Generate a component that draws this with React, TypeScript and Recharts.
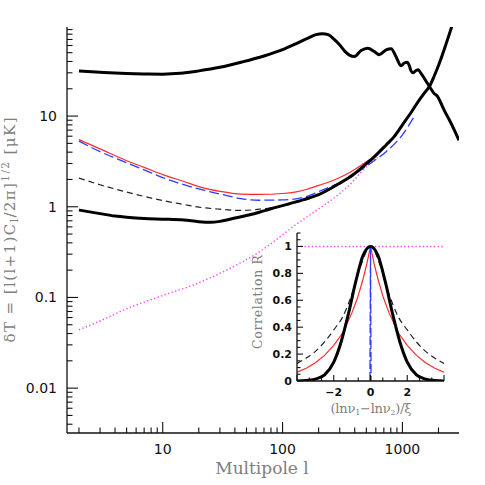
import React from 'react';
import { LineChart, Line, XAxis, YAxis } from 'recharts';

// ---- main panel: dT vs multipole l (log-log) ----
const cmbL = [2, 3, 4, 5, 7, 10, 14, 20, 30, 46, 70, 100, 130, 165, 190, 215, 240, 270, 299, 330, 361, 398, 452, 514, 583, 640, 731, 806, 883, 974, 1038, 1100, 1140, 1180, 1230, 1300, 1360, 1420, 1500, 1600, 1687, 1835, 1962, 2080, 2225, 2460, 2700, 2966];
const cmbT = [31.5, 30.5, 29.8, 29.4, 29.1, 29.0, 29.6, 31.5, 34.5, 39.5, 46, 54, 63, 73, 79, 81, 79, 70, 61, 52, 47, 45.4, 52.8, 56, 51.5, 47.5, 53.8, 55.3, 45.4, 36, 38.5, 39.2, 36, 31.5, 30, 31.8, 32.4, 30, 27, 23.5, 21, 17.8, 16.5, 14.2, 11.7, 9.1, 7.1, 5.4];

const noiseL = [2, 3, 4, 5, 7, 10, 15, 20, 25, 30, 40, 50, 64, 80, 100, 150, 200, 300, 385, 450, 566, 731, 850, 1000, 1200, 1380, 1550, 1690, 1850, 2030, 2300, 2600, 2750];
const noiseT = [0.92, 0.84, 0.79, 0.765, 0.74, 0.73, 0.715, 0.685, 0.675, 0.69, 0.75, 0.8, 0.87, 0.95, 1.03, 1.2, 1.36, 1.82, 2.24, 2.65, 3.43, 4.8, 5.9, 8.0, 11.3, 15, 18.5, 21.5, 28, 38, 61, 100, 125];

const redL = [2, 3, 5, 7, 10, 15, 20, 30, 45, 64, 100, 130, 160, 200, 250, 300, 385, 450, 530, 600];
const redT = [5.5, 4.35, 3.22, 2.72, 2.26, 1.9, 1.67, 1.48, 1.38, 1.37, 1.4, 1.46, 1.56, 1.72, 1.9, 2.1, 2.5, 2.85, 3.3, 3.65];

const blueL = [2, 3, 5, 7, 10, 15, 20, 25, 35, 45, 64, 100, 150, 203, 300, 385, 450, 566, 731, 1000, 1250];
const blueT = [5.3, 4.05, 3.06, 2.55, 2.1, 1.75, 1.57, 1.46, 1.32, 1.23, 1.18, 1.19, 1.27, 1.48, 1.85, 2.2, 2.55, 3.14, 4.05, 6.2, 9.8];

const dashL = [2, 3, 4, 5, 7, 10, 15, 20, 30, 46, 64, 90, 120, 150, 180];
const dashT = [2.07, 1.75, 1.57, 1.45, 1.3, 1.17, 1.06, 0.99, 0.94, 0.91, 0.94, 1.0, 1.08, 1.18, 1.27];

const pinkL = [2, 3, 5, 10, 18, 34, 64, 100, 122, 203, 300, 385, 468, 566, 620];
const pinkT = [0.044, 0.055, 0.075, 0.105, 0.137, 0.2, 0.318, 0.49, 0.6, 0.96, 1.4, 1.89, 2.54, 3.2, 3.5];

const xTicks = [2, 3, 4, 5, 6, 7, 8, 9, 10, 20, 30, 40, 50, 60, 70, 80, 90, 100, 200, 300, 400, 500, 600, 700, 800, 900, 1000, 2000];
const yTicks = [0.004, 0.005, 0.006, 0.007, 0.008, 0.009, 0.01, 0.02, 0.03, 0.04, 0.05, 0.06, 0.07, 0.08, 0.09, 0.1, 0.2, 0.3, 0.4, 0.5, 0.6, 0.7, 0.8, 0.9, 1, 2, 3, 4, 5, 6, 7, 8, 9, 10, 20, 30, 40, 50, 60, 70, 80, 90];

// ---- inset: correlation R vs (ln nu1 - ln nu2)/xi ----
const gaussX = [-4, -3.5, -3, -2.5, -2, -1.6, -1.2, -0.8, -0.4, 0, 0.4, 0.8, 1.2, 1.6, 2, 2.5, 3, 3.5, 4];
const gaussR = [0.0, 0.003, 0.014, 0.045, 0.14, 0.29, 0.5, 0.74, 0.935, 1, 0.935, 0.74, 0.5, 0.29, 0.14, 0.045, 0.014, 0.003, 0.0];
const expX = [-4, -3.5, -3, -2.5, -2, -1.5, -1, -0.7, -0.4, -0.2, 0, 0.2, 0.4, 0.7, 1, 1.5, 2, 2.5, 3, 3.5, 4];
const expR = [0.065, 0.095, 0.135, 0.19, 0.265, 0.36, 0.51, 0.62, 0.76, 0.87, 1, 0.87, 0.76, 0.62, 0.51, 0.36, 0.265, 0.19, 0.135, 0.095, 0.065];
const wideX = [-4, -3.5, -3, -2.5, -2, -1.5, -1, -0.5, 0, 0.5, 1, 1.5, 2, 2.5, 3, 3.5, 4];
const wideR = [0.13, 0.17, 0.22, 0.29, 0.38, 0.48, 0.65, 0.87, 1, 0.87, 0.65, 0.48, 0.38, 0.29, 0.22, 0.17, 0.13];
const spikeX = [-0.03, 0, 0.03];
const spikeR = [0, 1, 0];
const flatX = [-4, 4];
const flatR = [1, 1];

const insetXTicks = [-4, -3.333, -2.667, -2, -1.333, -0.667, 0, 0.667, 1.333, 2, 2.667, 3.333, 4];
const insetYTicks = [0, 0.05, 0.1, 0.15, 0.2, 0.25, 0.3, 0.35, 0.4, 0.45, 0.5, 0.55, 0.6, 0.65, 0.7, 0.75, 0.8, 0.85, 0.9, 0.95, 1, 1.05, 1.1];

const pts = (xs: number[], ys: number[]) => xs.map((x, i) => ({ x, v: ys[i] }));

const ink = '#111';
const gray = '#808080';
const serif = '"DejaVu Serif", serif';
const sans = '"DejaVu Sans", sans-serif';

type Side = 'bottom' | 'top' | 'left' | 'right';

function makeTick(
  side: Side,
  isMajor: (v: number) => boolean,
  label: (v: number) => string | null,
  majorLen: number,
  minorLen: number,
  gap: number,
  fontSize: number,
  fontWeight: number | string = 'normal'
) {
  return (p: any) => {
    const { x, y } = p;
    const v = p.payload.value;
    const len = isMajor(v) ? majorLen : minorLen;
    let x2 = x;
    let y2 = y;
    if (side === 'bottom') y2 = y - len;
    else if (side === 'top') y2 = y + len;
    else if (side === 'left') x2 = x + len;
    else x2 = x - len;
    const txt = label(v);
    return (
      <g>
        <line x1={x} y1={y} x2={x2} y2={y2} stroke={ink} strokeWidth={1.1} />
        {txt !== null && side === 'bottom' && (
          <text x={x} y={y + gap} textAnchor="middle" fontFamily={sans} fontSize={fontSize} fontWeight={fontWeight} fill={ink}>
            {txt}
          </text>
        )}
        {txt !== null && side === 'left' && (
          <text x={x - gap} y={y} dy="0.36em" textAnchor="end" fontFamily={sans} fontSize={fontSize} fontWeight={fontWeight} fill={ink}>
            {txt}
          </text>
        )}
      </g>
    );
  };
}

const isDecade = (v: number) => Math.abs(Math.log10(v) - Math.round(Math.log10(v))) < 1e-6;
const noLabel = () => null;
const decadeLabel = (v: number) => (isDecade(v) ? String(v) : null);

const insetXMajor = (v: number) => Math.abs(v - Math.round(v)) < 0.01 && Math.round(v) % 2 === 0;
const insetXLabel = (v: number) => {
  if (!insetXMajor(v) || Math.abs(v) > 3) return null;
  const r = Math.round(v);
  return r < 0 ? '\u2212' + Math.abs(r) : String(r);
};
const insetYMajor = (v: number) => Math.abs(v * 5 - Math.round(v * 5)) < 1e-6 && v <= 1.0001;
const insetYLabel = (v: number) => (insetYMajor(v) ? String(Math.round(v * 10) / 10) : null);

const axisLine = { stroke: ink, strokeWidth: 1.3 };

function YTitle() {
  return (
    <text
      transform="translate(15,230) rotate(-90)"
      textAnchor="middle"
      fill={gray}
      fontFamily={serif}
      fontSize={15}
      textLength={225}
      lengthAdjust="spacing"
    >
      δT = [l(l+1)C<tspan dy={3} fontSize={10.5}>l</tspan>
      <tspan dy={-3}>/2π]</tspan>
      <tspan dy={-6} fontSize={10.5}>1/2</tspan>
      <tspan dy={6}> [μK]</tspan>
    </text>
  );
}

function XTitle() {
  return (
    <text x={262} y={474} textAnchor="middle" fill={gray} fontFamily={serif} fontSize={17}>
      Multipole l
    </text>
  );
}

function InsetYTitle() {
  return (
    <text transform="translate(22,79) rotate(-90)" textAnchor="middle" fill={gray} fontFamily={serif} fontSize={12.5} textLength={94} lengthAdjust="spacing">
      Correlation R
    </text>
  );
}

function InsetXTitle() {
  return (
    <text x={131} y={190} textAnchor="middle" fill={gray} fontFamily={serif} fontSize={13} textLength={81} lengthAdjust="spacing">
      (lnν<tspan dy={2} fontSize={8}>1</tspan>
      <tspan dy={-2}>−lnν</tspan>
      <tspan dy={2} fontSize={8}>2</tspan>
      <tspan dy={-2}>)/ξ</tspan>
    </text>
  );
}

export default function App() {
  return (
    <div style={{ position: 'absolute', left: 0, top: 0, width: 485, height: 485, background: '#fff' }}>
      <div style={{ position: 'absolute', left: 0, top: 0 }}>
        <LineChart width={485} height={485} margin={{ top: 27, right: 26, left: 0, bottom: 0 }}>
          <XAxis
            xAxisId="b"
            dataKey="x"
            type="number"
            scale="log"
            domain={[1.59, 2966]}
            allowDataOverflow
            ticks={xTicks}
            interval={0}
            height={52}
            tickSize={0}
            tickMargin={0}
            tickLine={false}
            axisLine={axisLine}
            tick={makeTick('bottom', isDecade, decadeLabel, 11, 5.5, 21.3, 14)}
            label={{ content: () => <XTitle /> }}
          />
          <XAxis
            xAxisId="t"
            orientation="top"
            type="number"
            scale="log"
            domain={[1.59, 2966]}
            allowDataOverflow
            ticks={xTicks}
            interval={0}
            height={0}
            tickSize={0}
            tickMargin={0}
            tickLine={false}
            axisLine={axisLine}
            tick={makeTick('top', isDecade, noLabel, 11, 5.5, 0, 14)}
          />
          <YAxis
            yAxisId="l"
            type="number"
            scale="log"
            domain={[0.0032, 96]}
            allowDataOverflow
            ticks={yTicks}
            interval={0}
            width={67}
            tickSize={0}
            tickMargin={0}
            tickLine={false}
            axisLine={axisLine}
            tick={makeTick('left', isDecade, decadeLabel, 11, 5.5, 10, 14)}
            label={{ content: () => <YTitle /> }}
          />
          <YAxis
            yAxisId="r"
            orientation="right"
            type="number"
            scale="log"
            domain={[0.0032, 96]}
            allowDataOverflow
            ticks={yTicks}
            interval={0}
            width={0}
            tickSize={0}
            tickMargin={0}
            tickLine={false}
            axisLine={axisLine}
            tick={makeTick('right', isDecade, noLabel, 11, 5.5, 0, 14)}
          />
          <Line xAxisId="b" yAxisId="l" data={pts(pinkL, pinkT)} dataKey="v" type="monotone" stroke="#ff3cff" strokeWidth={1.4} strokeDasharray="1.3 2.4" dot={false} activeDot={false} isAnimationActive={false} />
          <Line xAxisId="b" yAxisId="l" data={pts(dashL, dashT)} dataKey="v" type="monotone" stroke="#222" strokeWidth={1.2} strokeDasharray="6 4" dot={false} activeDot={false} isAnimationActive={false} />
          <Line xAxisId="b" yAxisId="l" data={pts(redL, redT)} dataKey="v" type="monotone" stroke="#ff2a2a" strokeWidth={1.2} dot={false} activeDot={false} isAnimationActive={false} />
          <Line xAxisId="b" yAxisId="l" data={pts(blueL, blueT)} dataKey="v" type="monotone" stroke="#2a3cff" strokeWidth={1.3} strokeDasharray="10 4" dot={false} activeDot={false} isAnimationActive={false} />
          <Line xAxisId="b" yAxisId="l" data={pts(noiseL, noiseT)} dataKey="v" type="monotone" stroke="#000" strokeWidth={3} dot={false} activeDot={false} isAnimationActive={false} />
          <Line xAxisId="b" yAxisId="l" data={pts(cmbL, cmbT)} dataKey="v" type="monotone" stroke="#000" strokeWidth={3} dot={false} activeDot={false} isAnimationActive={false} />
        </LineChart>
      </div>
      <div style={{ position: 'absolute', left: 240, top: 223 }}>
        <LineChart width={215} height={200} margin={{ top: 10, right: 11, left: 0, bottom: 0 }}>
          <XAxis
            xAxisId="b"
            dataKey="x"
            type="number"
            domain={[-4, 4]}
            allowDataOverflow
            ticks={insetXTicks}
            interval={0}
            height={42}
            tickSize={0}
            tickMargin={0}
            tickLine={false}
            axisLine={axisLine}
            tick={makeTick('bottom', insetXMajor, insetXLabel, 6, 3.5, 15, 11, 'bold')}
            label={{ content: () => <InsetXTitle /> }}
          />
          <XAxis
            xAxisId="t"
            orientation="top"
            type="number"
            domain={[-4, 4]}
            allowDataOverflow
            ticks={insetXTicks}
            interval={0}
            height={0}
            tickSize={0}
            tickMargin={0}
            tickLine={false}
            axisLine={axisLine}
            tick={makeTick('top', insetXMajor, noLabel, 6, 3.5, 0, 11)}
          />
          <YAxis
            yAxisId="l"
            type="number"
            domain={[0, 1.1]}
            allowDataOverflow
            ticks={insetYTicks}
            interval={0}
            width={57}
            tickSize={0}
            tickMargin={0}
            tickLine={false}
            axisLine={axisLine}
            tick={makeTick('left', insetYMajor, insetYLabel, 6, 3.5, 5, 11, 'bold')}
            label={{ content: () => <InsetYTitle /> }}
          />
          <YAxis
            yAxisId="r"
            orientation="right"
            type="number"
            domain={[0, 1.1]}
            allowDataOverflow
            ticks={insetYTicks}
            interval={0}
            width={0}
            tickSize={0}
            tickMargin={0}
            tickLine={false}
            axisLine={axisLine}
            tick={makeTick('right', insetYMajor, noLabel, 6, 3.5, 0, 11)}
          />
          <Line xAxisId="b" yAxisId="l" data={pts(flatX, flatR)} dataKey="v" type="linear" stroke="#ff3cff" strokeWidth={1.4} strokeDasharray="1.3 2.4" dot={false} activeDot={false} isAnimationActive={false} />
          <Line xAxisId="b" yAxisId="l" data={pts(wideX, wideR)} dataKey="v" type="monotone" stroke="#222" strokeWidth={1.2} strokeDasharray="6 4" dot={false} activeDot={false} isAnimationActive={false} />
          <Line xAxisId="b" yAxisId="l" data={pts(expX, expR)} dataKey="v" type="linear" stroke="#ff2a2a" strokeWidth={1.2} dot={false} activeDot={false} isAnimationActive={false} />
          <Line xAxisId="b" yAxisId="l" data={pts(spikeX, spikeR)} dataKey="v" type="linear" stroke="#2a3cff" strokeWidth={1.3} strokeDasharray="9 3" dot={false} activeDot={false} isAnimationActive={false} />
          <Line xAxisId="b" yAxisId="l" data={pts(gaussX, gaussR)} dataKey="v" type="monotone" stroke="#000" strokeWidth={3} dot={false} activeDot={false} isAnimationActive={false} />
        </LineChart>
      </div>
    </div>
  );
}
